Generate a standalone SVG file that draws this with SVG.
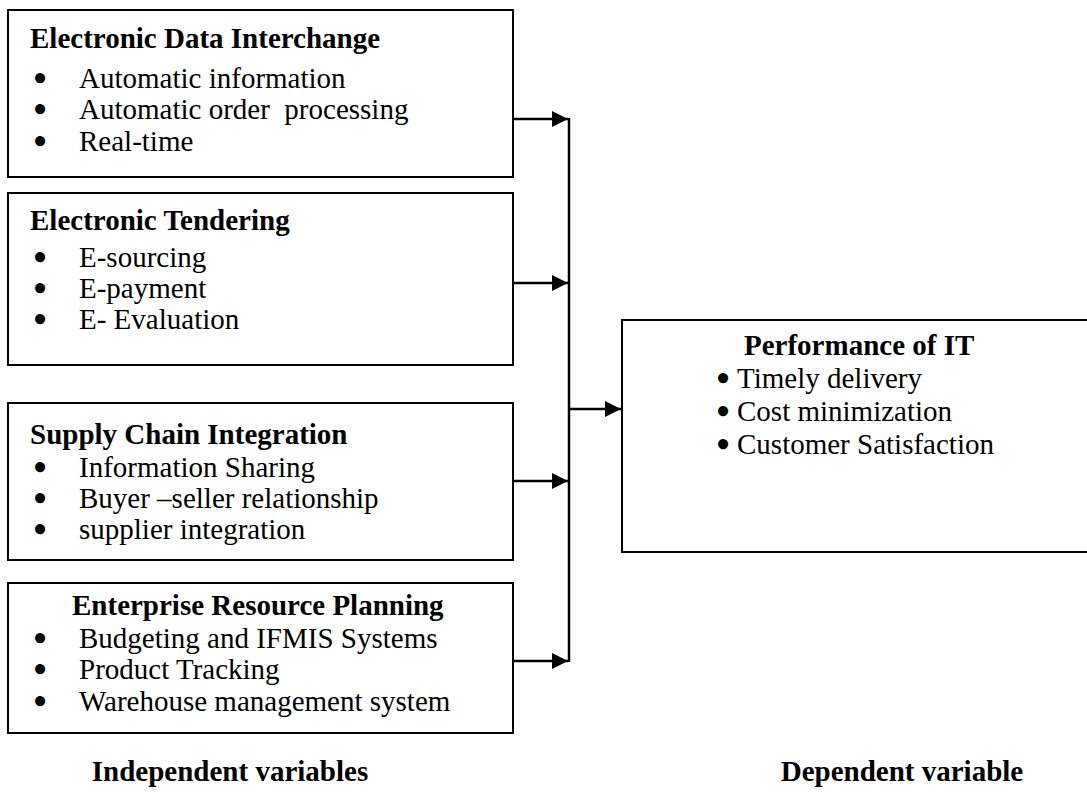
<svg xmlns="http://www.w3.org/2000/svg" width="1087" height="802" viewBox="0 0 1087 802">
<style>
.box{fill:#fff;stroke:#000;stroke-width:2}
.t{font-family:"Liberation Serif","Times New Roman",serif;font-size:29px;fill:#000}
.b{font-weight:bold}
.bu{font-weight:bold;stroke:#000;stroke-width:2.2}
.ln{stroke:#000;stroke-width:2.5;fill:none}
</style>
<defs>
<marker id="ah" viewBox="0 0 10 10" refX="10" refY="5" markerWidth="17" markerHeight="16" markerUnits="userSpaceOnUse" orient="auto">
<path d="M0,0 L10,5 L0,10 z" fill="#000"/>
</marker>
</defs>
<rect width="1087" height="802" fill="#fff"/>
<g id="edi">
<rect class="box" x="8" y="10" width="505" height="167"/>
<text class="t b" x="30" y="48">Electronic Data Interchange</text>
<text class="t" x="35" y="88"><tspan class="bu">•</tspan><tspan x="79">Automatic information</tspan></text>
<text class="t" x="35" y="119" xml:space="preserve"><tspan class="bu">•</tspan><tspan x="79">Automatic order  processing</tspan></text>
<text class="t" x="35" y="151"><tspan class="bu">•</tspan><tspan x="79">Real-time</tspan></text>
</g>
<g id="et">
<rect class="box" x="8" y="193" width="505" height="172"/>
<text class="t b" x="30" y="230">Electronic Tendering</text>
<text class="t" x="35" y="267"><tspan class="bu">•</tspan><tspan x="79">E-sourcing</tspan></text>
<text class="t" x="35" y="298"><tspan class="bu">•</tspan><tspan x="79">E-payment</tspan></text>
<text class="t" x="35" y="329"><tspan class="bu">•</tspan><tspan x="79">E- Evaluation</tspan></text>
</g>
<g id="sci">
<rect class="box" x="8" y="403" width="505" height="157"/>
<text class="t b" x="30" y="444">Supply Chain Integration</text>
<text class="t" x="35" y="477"><tspan class="bu">•</tspan><tspan x="79">Information Sharing</tspan></text>
<text class="t" x="35" y="508"><tspan class="bu">•</tspan><tspan x="79">Buyer –seller relationship</tspan></text>
<text class="t" x="35" y="539"><tspan class="bu">•</tspan><tspan x="79">supplier integration</tspan></text>
</g>
<g id="erp">
<rect class="box" x="8" y="583" width="505" height="150"/>
<text class="t b" x="72" y="615">Enterprise Resource Planning</text>
<text class="t" x="35" y="648"><tspan class="bu">•</tspan><tspan x="79">Budgeting and IFMIS Systems</tspan></text>
<text class="t" x="35" y="679"><tspan class="bu">•</tspan><tspan x="79">Product Tracking</tspan></text>
<text class="t" x="35" y="711"><tspan class="bu">•</tspan><tspan x="79">Warehouse management system</tspan></text>
</g>
<g id="perf">
<rect class="box" x="622" y="320" width="470" height="232"/>
<text class="t b" x="744" y="355">Performance of IT</text>
<text class="t" x="718" y="388"><tspan class="bu">•</tspan><tspan x="737">Timely delivery</tspan></text>
<text class="t" x="718" y="421"><tspan class="bu">•</tspan><tspan x="737">Cost minimization</tspan></text>
<text class="t" x="718" y="454"><tspan class="bu">•</tspan><tspan x="737">Customer Satisfaction</tspan></text>
</g>
<g id="connectors">
<line class="ln" x1="569" y1="118" x2="569" y2="662"/>
<line class="ln" x1="513" y1="119" x2="568" y2="119" marker-end="url(#ah)"/>
<line class="ln" x1="513" y1="283" x2="568" y2="283" marker-end="url(#ah)"/>
<line class="ln" x1="513" y1="481" x2="568" y2="481" marker-end="url(#ah)"/>
<line class="ln" x1="513" y1="661" x2="568" y2="661" marker-end="url(#ah)"/>
<line class="ln" x1="569" y1="409" x2="621" y2="409" marker-end="url(#ah)"/>
</g>
<g id="labels">
<text class="t b" x="230" y="781" text-anchor="middle">Independent variables</text>
<text class="t b" x="902" y="781" text-anchor="middle">Dependent variable</text>
</g>
</svg>
